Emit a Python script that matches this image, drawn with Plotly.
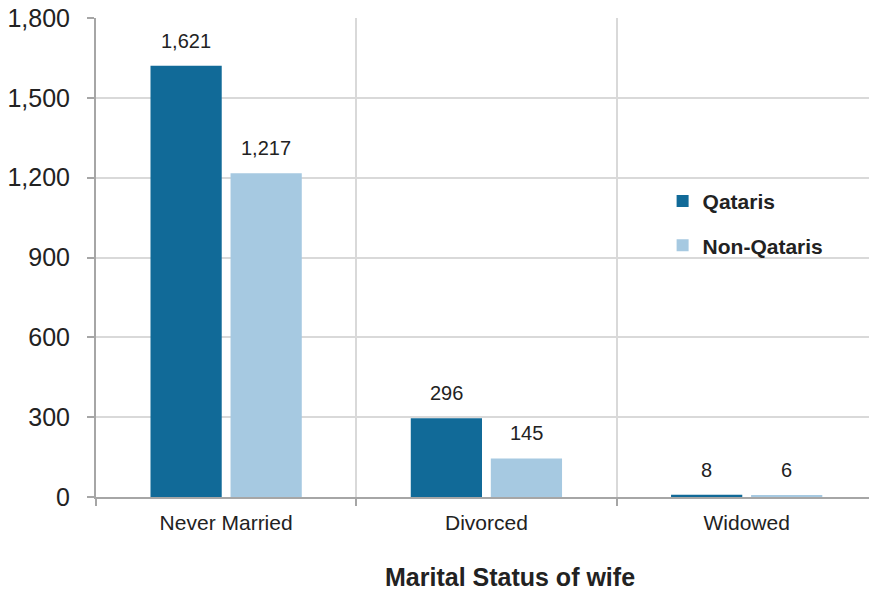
import plotly.graph_objects as go

categories = ["Never Married", "Divorced", "Widowed"]
qataris = [1621, 296, 8]
non_qataris = [1217, 145, 6]
series_names = ["Qataris", "Non-Qataris"]
y_ticks = [0, 300, 600, 900, 1200, 1500, 1800]

colors = ["#116A98", "#A6C9E1"]
grid_color = "#D9D9D9"
axis_color = "#A6A6A6"
font_family = "Liberation Sans, Arial, sans-serif"

fig = go.Figure()
for i, (name, values) in enumerate(zip(series_names, [qataris, non_qataris])):
    fig.add_trace(
        go.Bar(
            x=categories,
            y=values,
            name=name,
            legendgroup=name,
            marker=dict(color=colors[i], line=dict(width=0)),
        )
    )

annotations = []
# value labels above each bar
for values, shift in zip([qataris, non_qataris], [-40, 40]):
    for cat, v in zip(categories, values):
        annotations.append(
            dict(
                x=cat,
                y=v,
                xref="x",
                yref="y",
                xshift=shift,
                yshift=12,
                yanchor="bottom",
                text="{:,}".format(v),
                font=dict(family=font_family, size=20, color="#222222"),
                showarrow=False,
            )
        )

# axis title, sits a bit right of the plot centre in the original
annotations.append(
    dict(
        x=0.5356,
        y=-0.168,
        xref="paper",
        yref="paper",
        xanchor="center",
        yanchor="middle",
        text="<b>Marital Status of wife</b>",
        font=dict(family=font_family, size=25, color="#222222"),
        showarrow=False,
    )
)

fig.update_layout(
    width=869,
    height=589,
    autosize=False,
    margin=dict(l=96, r=0, t=18, b=92),
    plot_bgcolor="white",
    paper_bgcolor="white",
    barmode="group",
    bargap=0.385,
    bargroupgap=0.11,
    font=dict(family=font_family, color="#222222"),
    xaxis=dict(
        type="category",
        range=[-0.5, 2.47],
        tickson="boundaries",
        ticks="outside",
        ticklen=7,
        tickcolor=axis_color,
        tickwidth=2,
        showgrid=True,
        gridcolor=grid_color,
        gridwidth=2,
        showline=True,
        linecolor=axis_color,
        linewidth=2,
        tickfont=dict(family=font_family, size=21, color="#222222"),
        ticklabelstandoff=6,
        zeroline=False,
        automargin=False,
    ),
    yaxis=dict(
        range=[0, 1800],
        tickvals=y_ticks,
        tickformat=",",
        ticks="outside",
        ticklen=7,
        tickcolor=axis_color,
        tickwidth=2,
        showgrid=True,
        gridcolor=grid_color,
        gridwidth=2,
        showline=True,
        linecolor=axis_color,
        linewidth=2,
        zeroline=False,
        tickfont=dict(family=font_family, size=25, color="#222222"),
        ticklabelstandoff=12,
        automargin=False,
    ),
    legend=dict(
        x=0.733,
        y=0.66,
        xanchor="left",
        yanchor="top",
        tracegroupgap=14,
        font=dict(family=font_family, size=21, color="#222222", weight="bold"),
        bgcolor="rgba(0,0,0,0)",
    ),
    annotations=annotations,
)

# drop the browser's default body margin so the figure sits at 0,0
fig.write_html(
    "out.html",
    config={"displayModeBar": False},
    post_script="document.body.style.margin='0';",
)
